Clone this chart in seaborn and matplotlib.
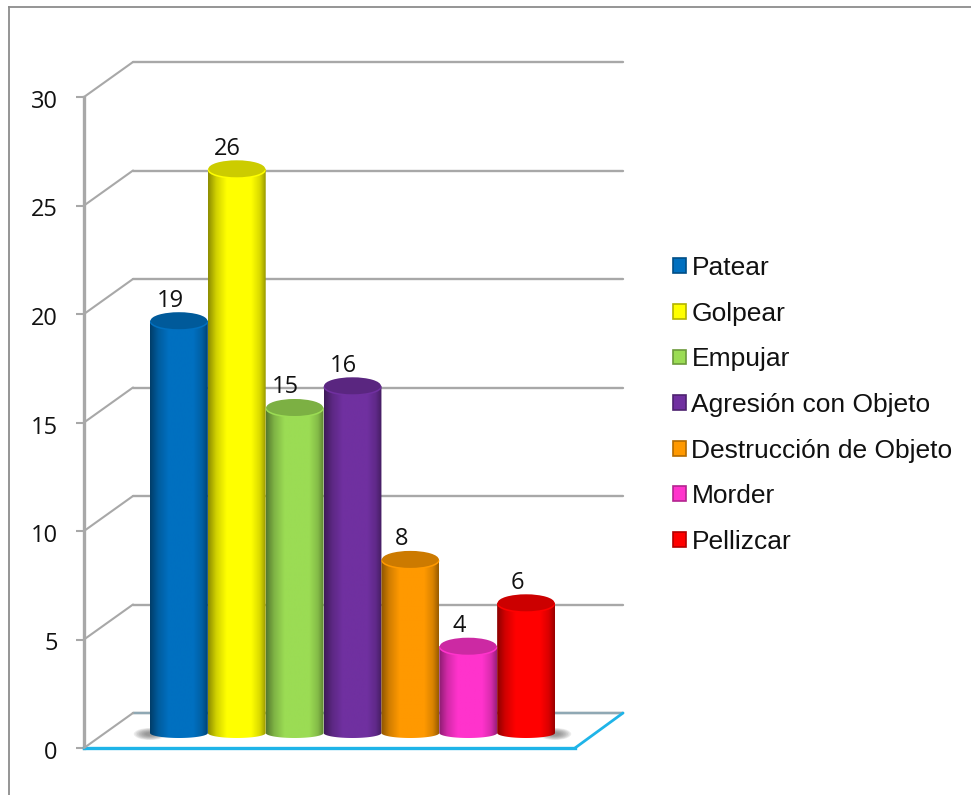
import numpy as np
import pandas as pd
import matplotlib
matplotlib.use("Agg")
import matplotlib.pyplot as plt
import seaborn as sns
from matplotlib.colors import LinearSegmentedColormap, to_rgb
from matplotlib.patches import Ellipse, Patch, Polygon, ConnectionPatch
from matplotlib.transforms import ScaledTranslation

categories = ["Patear", "Golpear", "Empujar", "Agresión con Objeto",
              "Destrucción de Objeto", "Morder", "Pellizcar"]
values = [19, 26, 15, 16, 8, 4, 6]
colors = ["#0070C0", "#FFFF00", "#9BDC54", "#7030A0", "#FF9900", "#FF33CC", "#FF0000"]
y_ticks = [0, 5, 10, 15, 20, 25, 30]

W, H = 971, 795
sns.set_theme(style="white")
plt.rcParams["font.family"] = ["Liberation Sans", "DejaVu Sans"]
fig = plt.figure(figsize=(W / 100, H / 100), dpi=100)
fig.patch.set_facecolor("white")


def px_axes(x0, x1, y_top, y_bottom, **kw):
    ax = fig.add_axes([x0 / W, 1 - y_bottom / H, (x1 - x0) / W, (y_bottom - y_top) / H], **kw)
    ax.patch.set_alpha(0)
    return ax


def shade(c, f):
    return tuple(v * f for v in to_rgb(c))


GRID = "#A8A8A8"
FLOOR = "#1FB4E8"

# outer chart frame
ax_frame = px_axes(9, W + 5, 7, H + 5)
ax_frame.set_xticks([]); ax_frame.set_yticks([])
for s in ("right", "bottom"):
    ax_frame.spines[s].set_visible(False)
for s in ("left", "top"):
    ax_frame.spines[s].set_color("#8C8C8C")
    ax_frame.spines[s].set_linewidth(1.3)

# back wall with gridlines
ax_back = px_axes(133, 623, 62, 713)
ax_back.set_xlim(0, 1); ax_back.set_ylim(0, 30)
ax_back.set_xticks([]); ax_back.set_yticks(y_ticks)
ax_back.tick_params(left=False, labelleft=False)
ax_back.grid(axis="y", color=GRID, lw=1.7)
for g in ax_back.get_ygridlines():
    g.set_clip_on(False)
ax_back.set_axisbelow(True)
sns.despine(ax=ax_back, left=True, bottom=True)
ax_back.axhline(0, color="#8FA8B4", lw=1.7, clip_on=False)

# front value axis and floor edge
ax_front = px_axes(84, 575, 97, 748)
ax_front.set_xlim(0, 1); ax_front.set_ylim(0, 30)
ax_front.set_xticks([]); ax_front.set_yticks(y_ticks)
ax_front.tick_params(axis="y", left=True, length=6, width=1.5, color=GRID, pad=13,
                     labelsize=17, labelcolor="#111111")
for t in ax_front.get_yticklabels():
    t.set_fontfamily("Open Sans")
    t.set_transform(t.get_transform() + ScaledTranslation(0, -2 / 100, fig.dpi_scale_trans))
sns.despine(ax=ax_front, top=True, right=True)
ax_front.spines["left"].set_color(GRID)
ax_front.spines["left"].set_linewidth(2.4)
ax_front.spines["bottom"].set_color(FLOOR)
ax_front.spines["bottom"].set_linewidth(2.4)

# depth lines joining the front axis to the back wall
for t in y_ticks:
    fig.add_artist(ConnectionPatch((0, t), (0, t), ax_front.transData, ax_back.transData,
                                   color=GRID, lw=1.5))
fig.add_artist(ConnectionPatch((1, 0), (1, 0), ax_front.transData, ax_back.transData,
                               color=FLOOR, lw=2.0))

# cylinders
ax = px_axes(150, 555, 733 - 651, 733)
df = pd.DataFrame({"categoria": categories, "valor": values})
sns.barplot(data=df, x="categoria", y="valor", hue="categoria", hue_order=categories,
            palette=colors, width=1, saturation=1, legend=False, ax=ax)
ax.set_xlim(-0.5, 6.5); ax.set_ylim(0, 30)
ax.axis("off")
unit = 651 / 30  # pixels per value unit
top_h = 17 / unit
base_h = 10 / unit

bars = [p for p in ax.patches if p.get_height() > 0]

# soft floor shadow at both ends of the row of cylinders
for edge in (bars[0].get_x(), bars[-1].get_x() + bars[-1].get_width()):
    for grow in np.linspace(1, .3, 8):
        ax.add_patch(Ellipse((edge, -1 / unit), .56 * grow, 12 / unit * grow, fc="#666666",
                             ec="none", alpha=.12, zorder=0.5, clip_on=False))

for bar, col, val in zip(bars, colors, values):
    x0, w, h = bar.get_x(), bar.get_width(), bar.get_height()
    cx = x0 + w / 2
    cmap = LinearSegmentedColormap.from_list(
        "c", [(0, shade(col, .55)), (.14, shade(col, .82)), (.32, shade(col, 1)),
              (.75, shade(col, 1)), (.9, shade(col, .85)), (1, shade(col, .6))])
    theta = np.linspace(np.pi, 2 * np.pi, 40)
    arc = np.column_stack([cx + w / 2 * np.cos(theta), base_h / 2 * np.sin(theta)])
    outline = np.vstack([[[x0, h]], arc, [[x0 + w, h]]])
    clip = Polygon(outline, closed=True, transform=ax.transData, fc="none", ec="none")
    clip.set_clip_on(False)
    ax.add_patch(clip)
    bar.set_visible(False)
    im = ax.imshow(np.linspace(0, 1, 128)[None, :], cmap=cmap, aspect="auto",
                   extent=(x0, x0 + w, -base_h, h), zorder=2, interpolation="bilinear")
    im.set_clip_box(fig.bbox)
    im.set_clip_path(clip)
    ax.add_patch(Ellipse((cx, h - 1.5 / unit), w, top_h, fc=shade(col, 1), ec="none",
                         zorder=3, clip_on=False))
    ax.add_patch(Ellipse((cx, h), w * .98, top_h, fc=shade(col, .8), ec="none",
                         zorder=3.1, clip_on=False))
    ax.annotate(str(val), (cx, h), xytext=(-6.5, 14.5), textcoords="offset points",
                ha="center", va="center", fontsize=17, color="#111111",
                family="Open Sans", zorder=5, annotation_clip=False)
ax.set_xlim(-0.5, 6.5); ax.set_ylim(0, 30)

# legend
handles = [Patch(facecolor=c, edgecolor=shade(c, .7), linewidth=1.2) for c in colors]
fig.legend(handles, categories, loc="upper left", bbox_to_anchor=(673 / W, 1 - 256 / H),
           frameon=False, fontsize=19, handlelength=0.48, handleheight=0.48,
           handletextpad=0.22, labelspacing=0.82, borderpad=0, borderaxespad=0,
           labelcolor="#111111")

fig.savefig("out.png", dpi=100, facecolor="white")
